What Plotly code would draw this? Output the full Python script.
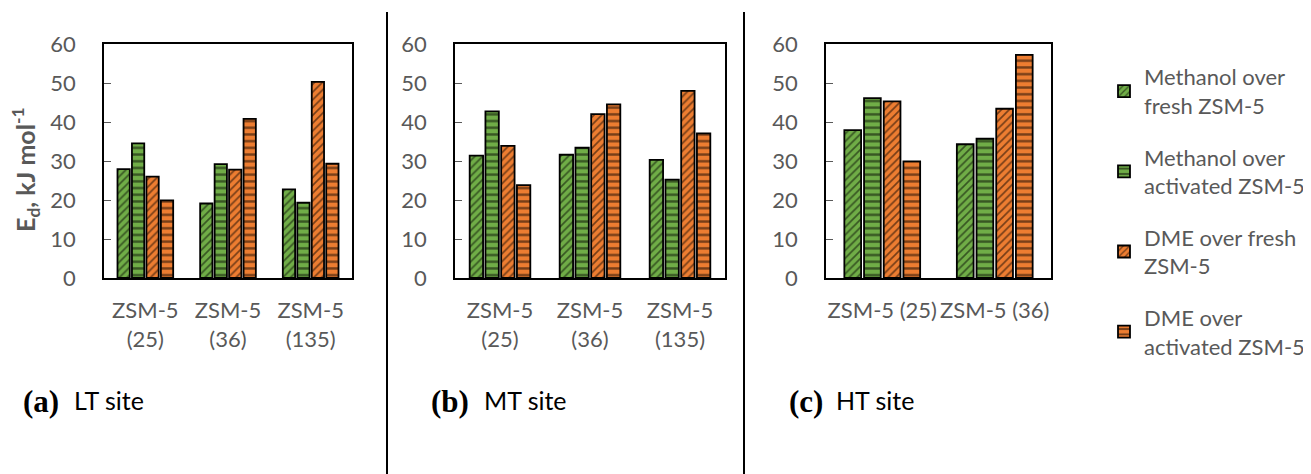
import plotly.graph_objects as go

W, H = 1311, 474
OFF = 8  # page body margin in the browser

series_names = ["Methanol over<br>fresh ZSM-5", "Methanol over<br>activated ZSM-5",
                "DME over fresh<br>ZSM-5", "DME over<br>activated ZSM-5"]
cats_ab = ["ZSM-5<br>(25)", "ZSM-5<br>(36)", "ZSM-5<br>(135)"]
cats_c = ["ZSM-5 (25)", "ZSM-5 (36)"]

# LT site (a)
lt_meoh_fresh = [27.9, 19.1, 22.7]
lt_meoh_act = [34.5, 29.2, 19.3]
lt_dme_fresh = [26.0, 27.8, 50.3]
lt_dme_act = [19.9, 40.8, 29.3]
# MT site (b)
mt_meoh_fresh = [31.4, 31.6, 30.3]
mt_meoh_act = [42.7, 33.4, 25.2]
mt_dme_fresh = [33.9, 42.0, 48.0]
mt_dme_act = [23.8, 44.5, 37.1]
# HT site (c)
ht_meoh_fresh = [37.9, 34.3]
ht_meoh_act = [46.1, 35.7]
ht_dme_fresh = [45.3, 43.4]
ht_dme_act = [29.9, 57.2]

yticks = [0, 10, 20, 30, 40, 50, 60]

GREEN = "#70AD47"
ORANGE = "#ED7D31"
GRAY = "#595959"
colors = [GREEN, GREEN, ORANGE, ORANGE]
patterns = [dict(shape="/", size=5.5, solidity=0.3, fgcolor="black"),
            dict(shape="-", size=6.7, solidity=0.36, fgcolor="black"),
            dict(shape="/", size=5.5, solidity=0.3, fgcolor="black"),
            dict(shape="-", size=6.7, solidity=0.36, fgcolor="black")]

panels = [
    ("x", "y", cats_ab, [lt_meoh_fresh, lt_meoh_act, lt_dme_fresh, lt_dme_act]),
    ("x2", "y2", cats_ab, [mt_meoh_fresh, mt_meoh_act, mt_dme_fresh, mt_dme_act]),
    ("x3", "y3", cats_c, [ht_meoh_fresh, ht_meoh_act, ht_dme_fresh, ht_dme_act]),
]


def px(v):
    return (v - OFF) / W


def py(v):
    return 1 - (v - OFF) / H


fig = go.Figure()
for pi, (xa, ya, cats, data) in enumerate(panels):
    for si, vals in enumerate(data):
        fig.add_trace(go.Bar(
            x=cats, y=vals, xaxis=xa, yaxis=ya,
            name=series_names[si], legendgroup=f"s{si}", showlegend=(pi == 0),
            marker=dict(color=colors[si], pattern=patterns[si],
                        line=dict(color="black", width=1.8)),
        ))

FONT = "Lato"
ydom = [py(278), py(44)]
xdoms = [[px(104), px(352)], [px(455), px(725)], [px(826), px(1051)]]

layout = dict(
    width=W, height=H,
    margin=dict(l=0, r=0, t=0, b=0, autoexpand=False),
    paper_bgcolor="white", plot_bgcolor="white",
    barmode="group", bargap=0.3, bargroupgap=0.15,
    font=dict(family=FONT, size=22, color=GRAY),
    legend=dict(x=px(1104), xanchor="left", y=py(56), yanchor="top",
                font=dict(family=FONT, size=22, color=GRAY),
                tracegroupgap=20, bgcolor="rgba(0,0,0,0)"),
)
for i, xd in enumerate(xdoms):
    sfx = "" if i == 0 else str(i + 1)
    layout["xaxis" + sfx] = dict(
        domain=xd, anchor="y" + sfx, showline=True, linecolor="black", linewidth=2,
        mirror=True, ticks="", tickfont=dict(family=FONT, size=22, color=GRAY),
        ticklabelstandoff=12, fixedrange=True, automargin=False,
    )
    layout["yaxis" + sfx] = dict(
        domain=ydom, anchor="x" + sfx, range=[0, 60], tickvals=yticks,
        showline=True, linecolor="black", linewidth=1.6, mirror=True,
        showgrid=False, zeroline=False, ticks="inside", ticklen=7, tickcolor=GRAY,
        tickwidth=1.3, tickfont=dict(family=FONT, size=22, color=GRAY),
        ticklabelstandoff=22, fixedrange=True, automargin=False,
    )
fig.update_layout(**layout)

# y-axis title
fig.add_annotation(xref="paper", yref="paper", x=px(25), y=py(170),
                   xanchor="center", yanchor="middle", showarrow=False, textangle=-90,
                   text="<b>E<sub>d</sub>, kJ mol<sup>-1</sup></b>",
                   font=dict(family=FONT, size=25, color=GRAY))

# separators
for xs in [387, 744]:
    fig.add_shape(type="line", xref="paper", yref="paper", x0=px(xs), x1=px(xs),
                  y0=0, y1=py(12), line=dict(color="black", width=2))

labels = [("(a)", "LT site", 21, 72), ("(b)", "MT site", 429, 482), ("(c)", "HT site", 787, 834)]
for tag, txt, x0, x1 in labels:
    fig.add_annotation(xref="paper", yref="paper", x=px(x0), y=py(401),
                       xanchor="left", yanchor="middle", showarrow=False,
                       text=f"<b>{tag}</b>",
                       font=dict(family="Liberation Serif", size=31, color="black"))
    fig.add_annotation(xref="paper", yref="paper", x=px(x1), y=py(400),
                       xanchor="left", yanchor="middle", showarrow=False,
                       text=txt, font=dict(family=FONT, size=25, color="black"))

fig.write_html("out.html")
